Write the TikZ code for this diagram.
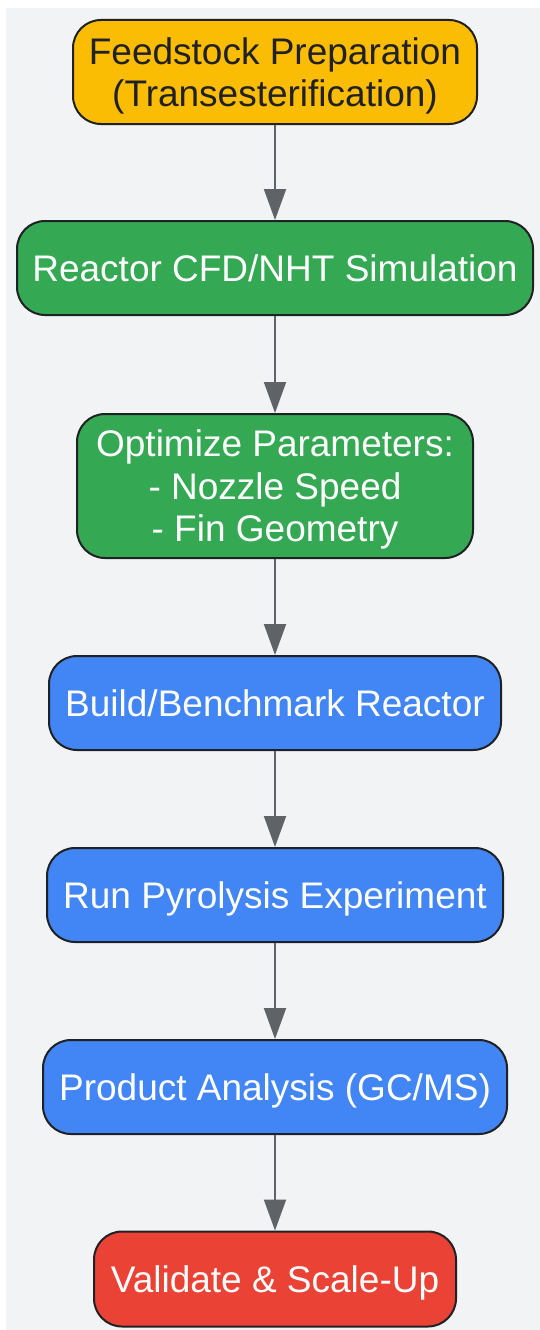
\documentclass[tikz,border=0pt]{standalone}
\usepackage{fontspec}
\setmainfont{Liberation Sans}
\usetikzlibrary{arrows.meta}

\definecolor{panelbg}{HTML}{F1F3F4}
\definecolor{prepyellow}{HTML}{FBBC04}
\definecolor{simgreen}{HTML}{34A853}
\definecolor{labblue}{HTML}{4285F4}
\definecolor{finalred}{HTML}{EA4335}
\definecolor{edgegray}{HTML}{5F6368}
\definecolor{inkdark}{HTML}{202124}

\tikzset{
  stage/.style={draw=inkdark, line width=2pt, rounded corners=28pt, align=center,
    inner sep=0pt, text depth=0pt, text=white, font=\fontsize{37}{42.5}\selectfont},
  flow/.style={draw=edgegray, line width=2pt, -{Triangle[length=31pt,width=22pt]}},
}

\begin{document}
\begin{tikzpicture}[x=1pt,y=-1pt]

% Background panel
\useasboundingbox (0,0) rectangle (540,1330);
\fill[panelbg] (6,8) rectangle (540,1330);

% Stages of the workflow
\node[stage, fill=prepyellow, text=inkdark, minimum width=404pt, minimum height=104pt] (feedstock) at (275,72) {Feedstock Preparation\\(Transesterification)};
\node[stage, fill=simgreen, minimum width=516pt, minimum height=94pt] (cfd) at (275,268) {Reactor CFD/NHT Simulation};
\node[stage, fill=simgreen, minimum width=396pt, minimum height=144pt] (optimize) at (275,486) {Optimize Parameters:\\- Nozzle Speed\\- Fin Geometry};
\node[stage, fill=labblue, minimum width=452pt, minimum height=94pt] (build) at (275,703) {Build/Benchmark Reactor};
\node[stage, fill=labblue, minimum width=456pt, minimum height=94pt] (pyrolysis) at (275,895) {Run Pyrolysis Experiment};
\node[stage, fill=labblue, minimum width=464pt, minimum height=94pt] (analysis) at (275,1087) {Product Analysis (GC/MS)};
\node[stage, fill=finalred, minimum width=362pt, minimum height=95pt] (validate) at (275,1279) {Validate \& Scale-Up};

% Connectors
\draw[flow] (feedstock) -- (cfd);
\draw[flow] (cfd) -- (optimize);
\draw[flow] (optimize) -- (build);
\draw[flow] (build) -- (pyrolysis);
\draw[flow] (pyrolysis) -- (analysis);
\draw[flow] (analysis) -- (validate);

\end{tikzpicture}
\end{document}
